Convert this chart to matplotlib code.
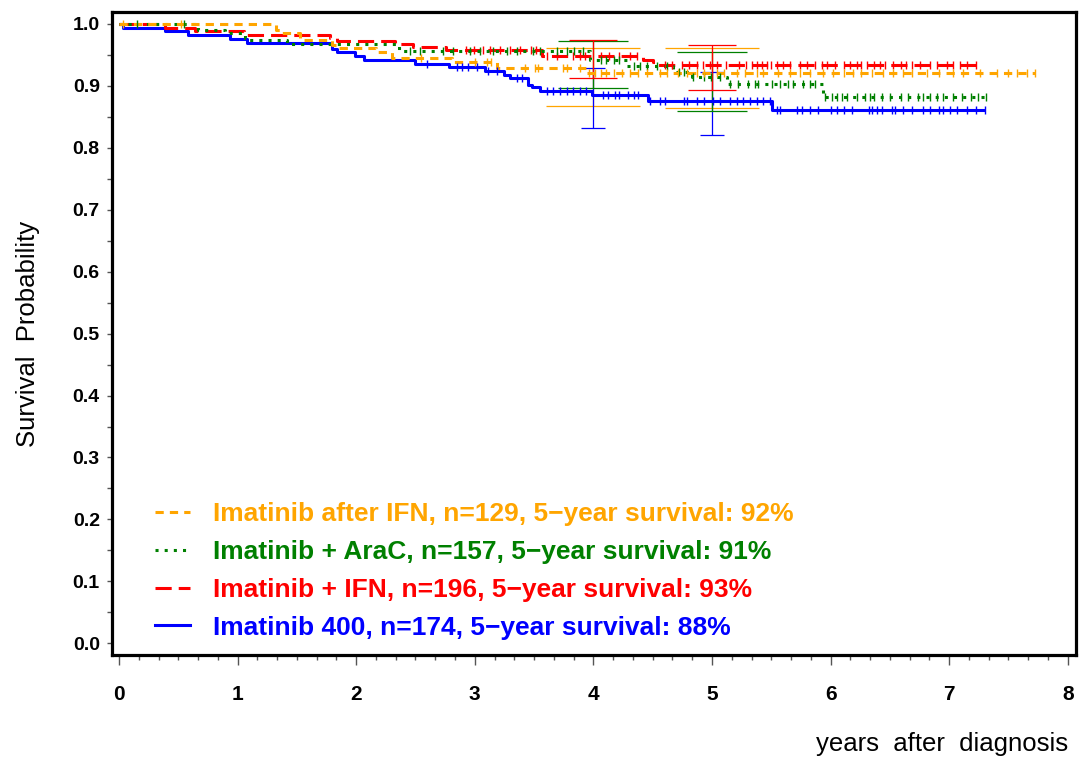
import numpy as np
import matplotlib
matplotlib.use("Agg")
import matplotlib.pyplot as plt
from matplotlib.lines import Line2D
from matplotlib.ticker import MultipleLocator

plt.rcParams["font.family"] = ["Liberation Sans Narrow", "Liberation Sans", "DejaVu Sans"]

# Kaplan-Meier steps (event times in years, survival after the event)
after_ifn_t = [0, 1.32, 1.36, 1.53, 1.80, 1.84, 2.17, 2.30, 2.81, 3.19, 3.94]
after_ifn_s = [1.0, 0.991, 0.985, 0.974, 0.966, 0.961, 0.954, 0.945, 0.938, 0.929, 0.921]
after_ifn_end = 7.72
after_ifn_cens = [0.03, 0.52, 2.55, 3.00, 3.10, 3.14, 3.42, 3.51, 3.53, 3.74, 3.78, 3.89,
                  3.96, 4.01, 4.06, 4.11, 4.17, 4.24, 4.31, 4.38, 4.45, 4.56, 4.62, 4.71,
                  4.79, 4.87, 4.93, 5.04, 5.10, 5.21, 5.28, 5.38, 5.43, 5.56, 5.66, 5.74,
                  5.83, 5.94, 6.02, 6.11, 6.19, 6.26, 6.35, 6.44, 6.53, 6.61, 6.69, 6.81,
                  6.91, 7.03, 7.12, 7.26, 7.40, 7.50, 7.57, 7.66, 7.72]

arac_t = [0, 0.67, 0.89, 1.06, 1.10, 1.42, 2.34, 2.39, 3.97, 4.28, 4.67, 4.83, 5.13, 5.94]
arac_s = [1.0, 0.990, 0.985, 0.977, 0.974, 0.967, 0.962, 0.957, 0.942, 0.932, 0.923,
          0.914, 0.903, 0.882]
arac_end = 7.31
arac_cens = [0.15, 0.55, 2.45, 2.54, 2.73, 2.82, 2.96, 3.04, 3.15, 3.27, 3.36, 3.49, 3.55,
             3.69, 3.78, 3.84, 3.91, 4.06, 4.11, 4.17, 4.22, 4.34, 4.39, 4.45, 4.54, 4.62,
             4.72, 4.76, 4.84, 4.93, 4.99, 5.07, 5.15, 5.22, 5.30, 5.36, 5.39, 5.51, 5.57,
             5.64, 5.68, 5.77, 5.83, 5.87, 5.95, 6.01, 6.05, 6.10, 6.14, 6.22, 6.29, 6.33,
             6.37, 6.43, 6.50, 6.59, 6.65, 6.74, 6.78, 6.84, 6.90, 6.95, 7.03, 7.11, 7.18,
             7.24, 7.31]

ifn_t = [0, 0.39, 0.64, 1.05, 1.78, 1.84, 2.33, 2.48, 2.76, 3.57, 4.42, 4.50, 4.54]
ifn_s = [1.0, 0.994, 0.989, 0.983, 0.978, 0.973, 0.968, 0.963, 0.958, 0.948, 0.942,
         0.938, 0.933]
ifn_end = 7.23
ifn_cens = [2.93, 2.99, 3.07, 3.13, 3.21, 3.30, 3.38, 3.47, 3.52, 3.61, 3.69, 3.83, 3.89,
            3.93, 4.06, 4.13, 4.22, 4.31, 4.37, 4.60, 4.66, 4.75, 4.81, 4.87, 4.92, 4.98,
            5.04, 5.12, 5.23, 5.29, 5.34, 5.38, 5.42, 5.46, 5.50, 5.55, 5.60, 5.66, 5.74,
            5.80, 5.87, 5.93, 5.97, 6.04, 6.11, 6.16, 6.22, 6.26, 6.31, 6.37, 6.42, 6.46,
            6.53, 6.59, 6.64, 6.69, 6.75, 6.84, 6.90, 6.98, 7.03, 7.09, 7.15, 7.23]

im400_t = [0, 0.03, 0.39, 0.58, 0.94, 1.08, 1.80, 1.84, 1.99, 2.07, 2.50, 2.78, 3.09, 3.25,
           3.30, 3.45, 3.48, 3.55, 3.99, 4.46, 5.51]
im400_s = [1.0, 0.994, 0.988, 0.982, 0.975, 0.970, 0.959, 0.954, 0.948, 0.942, 0.935,
           0.930, 0.924, 0.917, 0.912, 0.902, 0.898, 0.892, 0.885, 0.876, 0.861]
im400_end = 7.30
im400_cens = [2.60, 2.85, 2.89, 2.94, 3.02, 3.11, 3.19, 3.36, 3.40, 3.61, 3.66, 3.72, 3.78,
              3.83, 3.89, 3.94, 4.08, 4.12, 4.18, 4.22, 4.29, 4.34, 4.38, 4.48, 4.56, 4.60,
              4.76, 4.79, 4.87, 4.93, 5.01, 5.07, 5.15, 5.21, 5.26, 5.32, 5.38, 5.43, 5.49,
              5.55, 5.57, 5.72, 5.76, 5.83, 5.89, 6.00, 6.05, 6.11, 6.18, 6.32, 6.35, 6.39,
              6.43, 6.52, 6.54, 6.61, 6.69, 6.78, 6.84, 6.91, 6.95, 7.01, 7.07, 7.15, 7.23,
              7.30]

# pointwise confidence limits at 4 and 5 years
ci_years = [4, 5]
after_ifn_lo = [0.867, 0.865]
after_ifn_hi = [0.961, 0.961]
arac_lo = [0.896, 0.860]
arac_hi = [0.972, 0.954]
ifn_lo = [0.913, 0.893]
ifn_hi = [0.974, 0.966]
im400_lo = [0.832, 0.820]
im400_hi = [0.929, 0.922]

labels = [
    "Imatinib after IFN, n=129, 5\u2212year survival: 92%",
    "Imatinib + AraC, n=157, 5\u2212year survival: 91%",
    "Imatinib + IFN, n=196, 5\u2212year survival: 93%",
    "Imatinib 400, n=174, 5\u2212year survival: 88%",
]

groups = [
    (after_ifn_t, after_ifn_s, after_ifn_end, after_ifn_cens, after_ifn_lo, after_ifn_hi),
    (arac_t, arac_s, arac_end, arac_cens, arac_lo, arac_hi),
    (ifn_t, ifn_s, ifn_end, ifn_cens, ifn_lo, ifn_hi),
    (im400_t, im400_s, im400_end, im400_cens, im400_lo, im400_hi),
]
colors = ["#FFA500", "#008000", "#FF0000", "#0000FF"]
styles = [(0, (2.7, 2.0)), (0, (1.0, 2.0)), (0, (5.3, 2.3)), "-"]
capsizes = [34, 25.5, 17.5, 8.5]

fig = plt.figure(figsize=(10.79, 7.58), dpi=100)
ax = fig.add_axes([0.1038, 0.1359, 0.8934, 0.8483])

lw = 2.2
# draw blue first so others sit on top like the original
for idx in [3, 2, 1, 0]:
    t, s, end, cens, lo, hi = groups[idx]
    c = colors[idx]
    tt = np.append(t, end)
    ss = np.append(s, s[-1])
    ax.step(tt, ss, where="post", color=c, lw=lw, linestyle=styles[idx],
            solid_capstyle="butt", dash_capstyle="butt", zorder=3)
    cens = np.array(cens)
    pos = np.searchsorted(t, cens, side="right") - 1
    ax.plot(cens, np.array(s)[pos], linestyle="none", marker="|", ms=6,
            mew=1.0, color=c, zorder=4)

for idx in [0, 3, 1, 2]:
    t, s, end, cens, lo, hi = groups[idx]
    c = colors[idx]
    mid = [(a + b) / 2 for a, b in zip(lo, hi)]
    yerr = [[m - a for m, a in zip(mid, lo)], [b - m for m, b in zip(mid, hi)]]
    ax.errorbar(ci_years, mid, yerr=yerr, fmt="none", ecolor=c, elinewidth=0.9,
                capsize=capsizes[idx], capthick=0.9, zorder=2)

ax.set_xlim(-0.059, 8.069)
ax.set_ylim(-0.0189, 1.0194)
ax.set_xticks(range(0, 9))
ax.set_yticks(np.arange(0, 1.01, 0.1))
ax.set_yticklabels([f"{v:.1f}" for v in np.arange(0, 1.01, 0.1)])
ax.xaxis.set_minor_locator(MultipleLocator(1 / 6))
ax.yaxis.set_minor_locator(MultipleLocator(0.05))

for sp in ax.spines.values():
    sp.set_linewidth(2.3)
    sp.set_color("black")

ax.tick_params(axis="x", which="major", direction="out", length=7.5, width=1,
               color="#555555", pad=14, labelsize=15)
ax.tick_params(axis="x", which="minor", direction="out", length=3.8, width=1,
               color="#555555")
ax.tick_params(axis="y", which="both", direction="out", length=3.8, width=1,
               color="#555555", pad=5, labelsize=14)
for lab in ax.get_xticklabels() + ax.get_yticklabels():
    lab.set_fontweight("bold")
    lab.set_family(["Liberation Sans", "DejaVu Sans"])

ax.set_ylabel("Survival  Probability", fontsize=18.5)
ax.yaxis.set_label_coords(-0.087, 0.5)
ax.yaxis.label.set_va("center")
ax.set_xlabel("years  after  diagnosis", fontsize=18.5)
ax.xaxis.set_label_coords(0.9917, -0.12)
ax.xaxis.label.set_ha("right")
ax.xaxis.label.set_va("top")

handles = [Line2D([], [], color=colors[i], lw=lw, linestyle=styles[i]) for i in range(4)]
leg = ax.legend(handles, labels, loc="lower left", bbox_to_anchor=(0.045, 0.024),
                frameon=False, fontsize=19, handlelength=1.3, handletextpad=0.9,
                labelspacing=0.52, borderpad=0, borderaxespad=0)
for txt, c in zip(leg.get_texts(), colors):
    txt.set_color(c)
    txt.set_fontweight("bold")

fig.savefig("out.png", dpi=100)
